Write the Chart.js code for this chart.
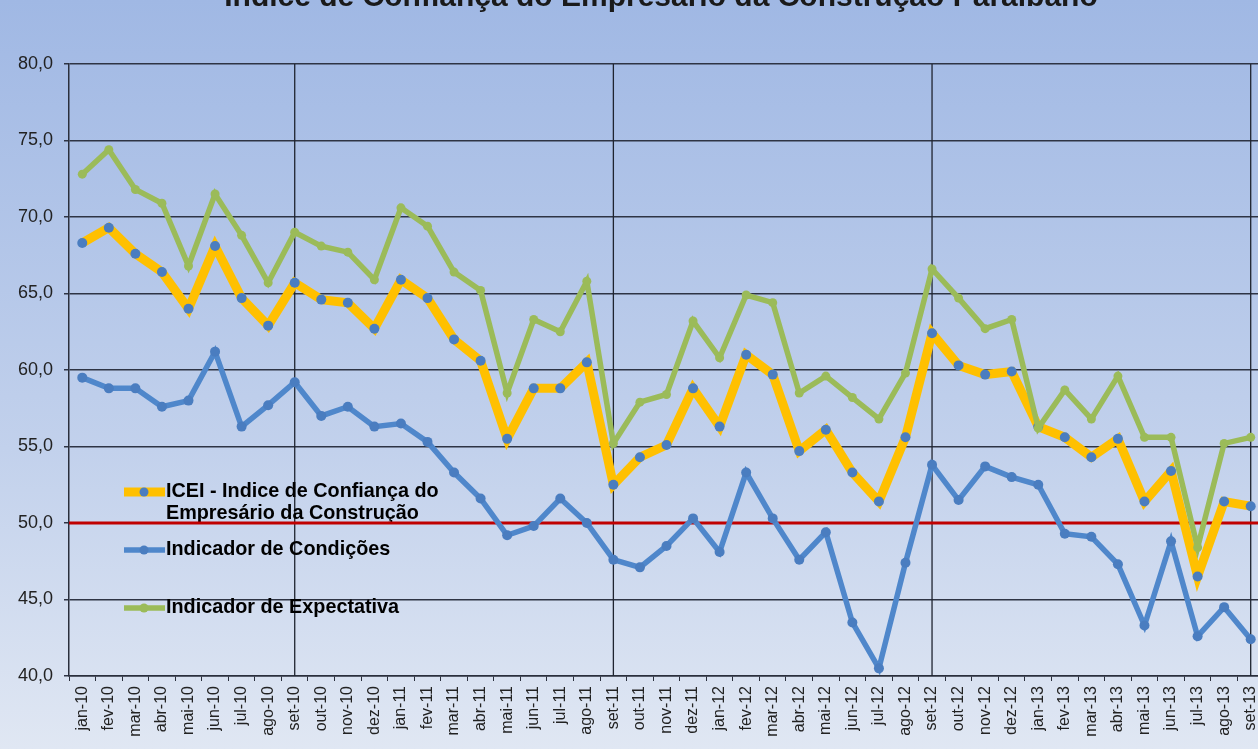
<!DOCTYPE html>
<html>
<head>
<meta charset="utf-8">
<script src="https://cdn.jsdelivr.net/npm/chart.js@4"></script>
<style>
  html, body {
    margin: 0;
    padding: 0;
    width: 1258px;
    height: 749px;
    overflow: hidden;
    background: linear-gradient(to bottom, #a0b8e4 0%, #c2d1ec 60%, #e0e7f3 100%);
  }
  #wrap { position: absolute; left: 0; top: -28px; width: 1275px; height: 777px; }
</style>
</head>
<body>
<div id="wrap"><canvas id="chart" width="1275" height="777"></canvas></div>
<script>
const labels = [
  'jan-10','fev-10','mar-10','abr-10','mai-10','jun-10','jul-10','ago-10','set-10','out-10','nov-10','dez-10',
  'jan-11','fev-11','mar-11','abr-11','mai-11','jun-11','jul-11','ago-11','set-11','out-11','nov-11','dez-11',
  'jan-12','fev-12','mar-12','abr-12','mai-12','jun-12','jul-12','ago-12','set-12','out-12','nov-12','dez-12',
  'jan-13','fev-13','mar-13','abr-13','mai-13','jun-13','jul-13','ago-13','set-13'
];

const icei = [
  68.3, 69.3, 67.6, 66.4, 64.0, 68.1, 64.7, 62.9, 65.7, 64.6, 64.4, 62.7,
  65.9, 64.7, 62.0, 60.6, 55.5, 58.8, 58.8, 60.5, 52.5, 54.3, 55.1, 58.8,
  56.3, 61.0, 59.7, 54.7, 56.1, 53.3, 51.4, 55.6, 62.4, 60.3, 59.7, 59.9,
  56.3, 55.6, 54.3, 55.5, 51.4, 53.4, 46.5, 51.4, 51.1
];

const condicoes = [
  59.5, 58.8, 58.8, 57.6, 58.0, 61.2, 56.3, 57.7, 59.2, 57.0, 57.6, 56.3,
  56.5, 55.3, 53.3, 51.6, 49.2, 49.8, 51.6, 50.0, 47.6, 47.1, 48.5, 50.3,
  48.1, 53.3, 50.3, 47.6, 49.4, 43.5, 40.5, 47.4, 53.8, 51.5, 53.7, 53.0,
  52.5, 49.3, 49.1, 47.3, 43.3, 48.8, 42.6, 44.5, 42.4
];

const expectativa = [
  72.8, 74.4, 71.8, 70.9, 66.8, 71.5, 68.8, 65.7, 69.0, 68.1, 67.7, 65.9,
  70.6, 69.4, 66.4, 65.2, 58.5, 63.3, 62.5, 65.8, 55.2, 57.9, 58.4, 63.2,
  60.8, 64.9, 64.4, 58.5, 59.6, 58.2, 56.8, 59.8, 66.6, 64.7, 62.7, 63.3,
  56.2, 58.7, 56.8, 59.6, 55.6, 55.6, 48.4, 55.2, 55.6
];

const title = 'Índice de Confiança do Empresário da Construção Paraibano';
const seriesNames = [
  ['ICEI - Indice de Confiança do', 'Empresário da Construção'],
  ['Indicador de Condições'],
  ['Indicador de Expectativa']
];
const yearMarks = ['set-10', 'set-11', 'set-12', 'set-13'];
const limitValue = 50;

const FONT = "'Liberation Sans', Arial, sans-serif";
const yellow = '#ffc000';
const blue = '#4f87cb';
const blueDot = '#4a7dc0';
const green = '#9bbb59';

// title (cut off at the top), vertical year lines, red 50 line and the legend
const extras = {
  id: 'extras',
  beforeDatasetsDraw(chart) {
    const { ctx, chartArea, scales } = chart;
    ctx.save();

    ctx.fillStyle = '#1a1a1a';
    ctx.font = 'bold 30px ' + FONT;
    ctx.textAlign = 'center';
    ctx.textBaseline = 'alphabetic';
    ctx.fillText(title, 661, 34);

    ctx.strokeStyle = '#1f2430';
    ctx.lineWidth = 1.3;
    yearMarks.forEach(m => {
      const x = scales.x.getPixelForValue(labels.indexOf(m));
      ctx.beginPath();
      ctx.moveTo(x, chartArea.top);
      ctx.lineTo(x, chartArea.bottom);
      ctx.stroke();
    });

    // legend (canvas is shifted up by 28px)
    const items = [
      { color: yellow, width: 9, dot: blueDot, y: 520 },
      { color: blue, width: 5.5, dot: blueDot, y: 578 },
      { color: green, width: 5.5, dot: green, y: 636 }
    ];
    ctx.font = 'bold 19.8px ' + FONT;
    ctx.textBaseline = 'middle';
    ctx.textAlign = 'left';
    items.forEach((it, i) => {
      ctx.strokeStyle = it.color;
      ctx.lineWidth = it.width;
      ctx.beginPath();
      ctx.moveTo(124, it.y);
      ctx.lineTo(165, it.y);
      ctx.stroke();
      ctx.fillStyle = it.dot;
      ctx.beginPath();
      ctx.arc(144, it.y, 4.5, 0, Math.PI * 2);
      ctx.fill();
      ctx.fillStyle = '#000';
      seriesNames[i].forEach((t, j) => ctx.fillText(t, 166, it.y + j * 22));
    });

    const y50 = scales.y.getPixelForValue(limitValue);
    ctx.strokeStyle = '#c00000';
    ctx.lineWidth = 3;
    ctx.beginPath();
    ctx.moveTo(chartArea.left, y50);
    ctx.lineTo(chartArea.right, y50);
    ctx.stroke();

    ctx.restore();
  }
};

new Chart(document.getElementById('chart'), {
  type: 'line',
  data: {
    labels: labels,
    datasets: [
      {
        label: seriesNames[0].join(' '),
        data: icei,
        borderColor: yellow,
        borderWidth: 9,
        pointBackgroundColor: blueDot,
        pointBorderWidth: 0,
        pointRadius: 5,
        order: 3
      },
      {
        label: seriesNames[1][0],
        data: condicoes,
        borderColor: blue,
        borderWidth: 5.5,
        pointBackgroundColor: blueDot,
        pointBorderWidth: 0,
        pointRadius: 5,
        order: 2
      },
      {
        label: seriesNames[2][0],
        data: expectativa,
        borderColor: green,
        borderWidth: 5.5,
        pointBackgroundColor: green,
        pointBorderWidth: 0,
        pointRadius: 4.5,
        order: 1
      }
    ]
  },
  options: {
    responsive: false,
    animation: false,
    layout: { padding: { left: 0, right: 9, top: 92, bottom: 0 } },
    plugins: {
      legend: { display: false },
      tooltip: { enabled: false },
      title: { display: false }
    },
    scales: {
      x: {
        offset: true,
        grid: {
          display: true,
          drawOnChartArea: false,
          drawTicks: true,
          tickLength: 5,
          tickColor: '#2a2f3c',
          offset: true
        },
        border: { display: true, color: '#2a2f3c', width: 1.5 },
        ticks: {
          autoSkip: false,
          minRotation: 90,
          maxRotation: 90,
          padding: 5,
          color: '#222',
          font: { family: FONT, size: 16 }
        },
        afterFit(scale) { scale.height = 73; }
      },
      y: {
        min: 40,
        max: 80,
        grid: {
          color: '#2e3444',
          lineWidth: 1.5,
          tickLength: 5,
          tickColor: '#2e3444'
        },
        border: { display: true, color: '#2a2f3c', width: 1.5 },
        ticks: {
          stepSize: 5,
          padding: 11,
          color: '#222',
          font: { family: FONT, size: 18 },
          callback: v => v.toFixed(1).replace('.', ',')
        },
        afterFit(scale) { scale.width = 69; }
      }
    }
  },
  plugins: [extras]
});
</script>
</body>
</html>
